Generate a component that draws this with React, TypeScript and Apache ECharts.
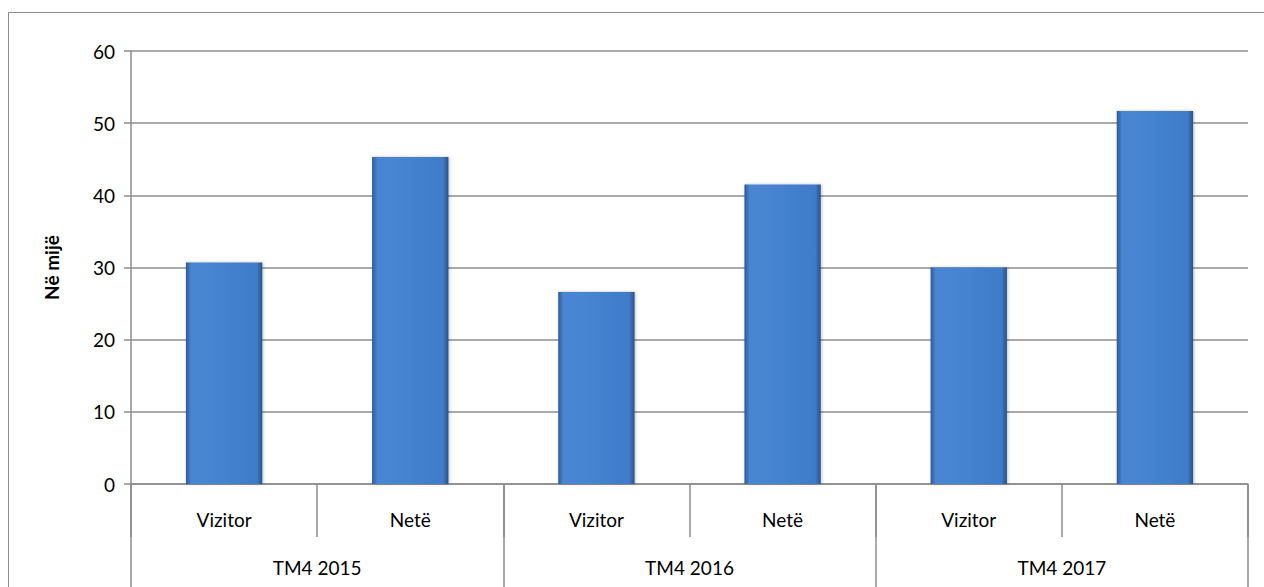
import React, { useEffect, useRef } from "react";
import * as echarts from "echarts";

const categories = ["Vizitor", "Netë", "Vizitor", "Netë", "Vizitor", "Netë"];
const groups = ["TM4 2015", "TM4 2016", "TM4 2017"];
const values = [30.7, 45.3, 26.6, 41.5, 30.0, 51.7];
const yAxisName = "Në mijë";

export default function App() {
  const ref = useRef<HTMLDivElement>(null);
  useEffect(() => {
    if (!ref.current) return;
    const chart = echarts.init(ref.current, null, { renderer: "svg" });
    const font = "Lato, 'Open Sans', sans-serif";
    const barColor = new echarts.graphic.LinearGradient(0, 0, 1, 0, [
      { offset: 0, color: "#2c5a98" },
      { offset: 0.07, color: "#4a86d2" },
      { offset: 0.5, color: "#4482d0" },
      { offset: 0.93, color: "#3f7bc8" },
      { offset: 1, color: "#27528a" },
    ]);
    chart.setOption({
      animation: false,
      backgroundColor: "#ffffff",
      graphic: [
        {
          type: "rect",
          shape: { x: 8.5, y: 12.5, width: 1300, height: 600 },
          style: { fill: "none", stroke: "#8c8c8c", lineWidth: 1 },
          silent: true,
        },
      ],
      grid: { left: 131, right: 16, top: 51, bottom: 103, containLabel: false },
      xAxis: [
        {
          type: "category",
          data: categories,
          position: "bottom",
          axisLine: { show: true, lineStyle: { color: "#8c8c8c", width: 1.5 } },
          axisTick: { show: true, length: 53, lineStyle: { color: "#8c8c8c", width: 1.5 } },
          axisLabel: { color: "#000", fontFamily: font, fontSize: 19, margin: 26 },
          splitLine: { show: false },
        },
        {
          type: "category",
          data: groups,
          position: "bottom",
          axisLine: { show: false },
          axisTick: { show: true, length: 110, lineStyle: { color: "#8c8c8c", width: 1.5 } },
          axisLabel: { color: "#000", fontFamily: font, fontSize: 19, margin: 74 },
          splitLine: { show: false },
        },
      ],
      yAxis: {
        type: "value",
        min: 0,
        max: 60,
        interval: 10,
        name: yAxisName,
        nameLocation: "middle",
        nameRotate: 90,
        nameGap: 70,
        nameTextStyle: { color: "#000", fontFamily: font, fontSize: 19, fontWeight: "bold" },
        axisLine: { show: true, lineStyle: { color: "#8c8c8c", width: 1.5 } },
        axisTick: { show: true, length: 7, lineStyle: { color: "#8c8c8c", width: 1.5 } },
        axisLabel: { color: "#000", fontFamily: font, fontSize: 19, margin: 16 },
        splitLine: { show: true, lineStyle: { color: "#8c8c8c", width: 1.5 } },
      },
      series: [
        {
          type: "bar",
          data: values,
          xAxisIndex: 0,
          barWidth: "41%",
          itemStyle: {
            color: barColor,
            shadowColor: "rgba(0,0,0,0.25)",
            shadowBlur: 3,
            shadowOffsetX: 1,
          },
        },
      ],
    });
    return () => chart.dispose();
  }, []);
  return (
    <div
      ref={ref}
      style={{ position: "fixed", left: 0, top: 0, width: 1264, height: 587, background: "#fff" }}
    />
  );
}
